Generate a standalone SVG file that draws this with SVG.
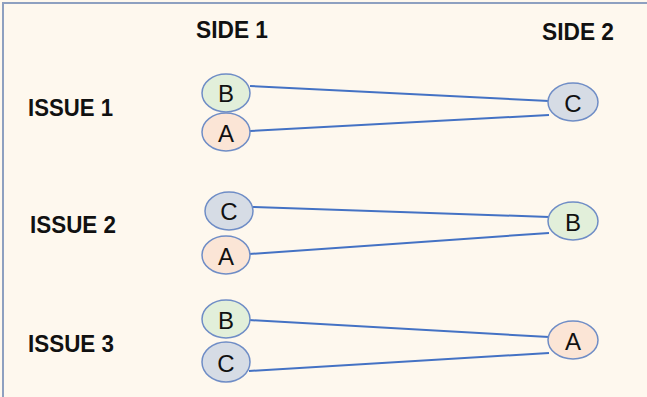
<svg xmlns="http://www.w3.org/2000/svg" width="647" height="397" viewBox="0 0 647 397">
<style>
.hdr{font-family:"Liberation Sans",Arial,sans-serif;font-weight:bold;font-size:23px;fill:#111}
.lbl{font-family:"Liberation Sans",Arial,sans-serif;font-size:24px;fill:#111;text-anchor:middle;dominant-baseline:central}
.n ellipse{stroke:#6F8DC6;stroke-width:1.5}
.g{fill:#E2EFDA}.p{fill:#FBE5D6}.b{fill:#D6DCE5}
.c line{stroke:#4472C4;stroke-width:2}
</style>
<rect x="0" y="0" width="647" height="397" fill="#FEF8EE"/>
<rect x="3" y="3" width="700" height="450" fill="none" stroke="#8EA0C0" stroke-width="2"/>
<g id="headers">
<text class="hdr" x="196" y="38" textLength="72" lengthAdjust="spacingAndGlyphs">SIDE 1</text>
<text class="hdr" x="542" y="40" textLength="72" lengthAdjust="spacingAndGlyphs">SIDE 2</text>
<text class="hdr" x="28" y="116" textLength="85" lengthAdjust="spacingAndGlyphs">ISSUE 1</text>
<text class="hdr" x="30" y="233" textLength="86" lengthAdjust="spacingAndGlyphs">ISSUE 2</text>
<text class="hdr" x="28" y="352" textLength="86" lengthAdjust="spacingAndGlyphs">ISSUE 3</text>
</g>
<g id="connectors" class="c">
<line x1="250" y1="86" x2="549" y2="101"/>
<line x1="250" y1="131" x2="549" y2="115"/>
<line x1="253" y1="207" x2="549" y2="217"/>
<line x1="249" y1="254" x2="549" y2="233"/>
<line x1="249" y1="320" x2="549" y2="337"/>
<line x1="249" y1="371" x2="549" y2="353"/>
</g>
<g id="i1-B" class="n"><ellipse class="g" cx="226" cy="93" rx="24" ry="19"/><text class="lbl" x="226" y="93">B</text></g>
<g id="i1-A" class="n"><ellipse class="p" cx="226" cy="132" rx="24" ry="19"/><text class="lbl" x="226" y="133">A</text></g>
<g id="i1-C2" class="n"><ellipse class="b" cx="573" cy="102" rx="25" ry="19"/><text class="lbl" x="573" y="103">C</text></g>
<g id="i2-C" class="n"><ellipse class="b" cx="229" cy="211" rx="24" ry="19"/><text class="lbl" x="229" y="211">C</text></g>
<g id="i2-A" class="n"><ellipse class="p" cx="226" cy="255" rx="24" ry="19"/><text class="lbl" x="226" y="256">A</text></g>
<g id="i2-B2" class="n"><ellipse class="g" cx="573" cy="221" rx="25" ry="19"/><text class="lbl" x="573" y="222">B</text></g>
<g id="i3-B" class="n"><ellipse class="g" cx="226" cy="319" rx="24" ry="19"/><text class="lbl" x="226" y="320">B</text></g>
<g id="i3-C" class="n"><ellipse class="b" cx="226" cy="362" rx="24" ry="20"/><text class="lbl" x="226" y="363">C</text></g>
<g id="i3-A2" class="n"><ellipse class="p" cx="573" cy="340" rx="25" ry="19"/><text class="lbl" x="573" y="341">A</text></g>
</svg>
